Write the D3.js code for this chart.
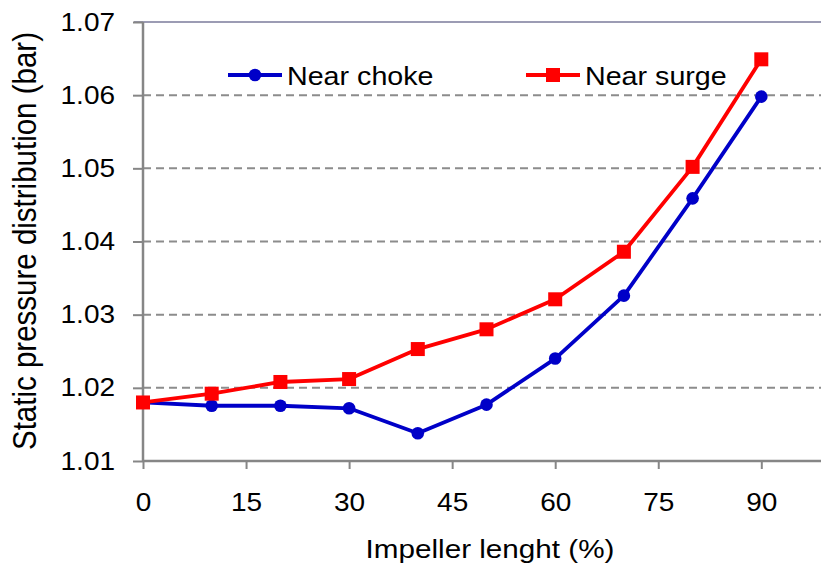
<!DOCTYPE html>
<html>
<head>
<meta charset="utf-8">
<script src="https://cdn.jsdelivr.net/npm/d3@7"></script>
<style>
  html, body { margin: 0; padding: 0; background: #fff; }
  svg { display: block; font-family: "Liberation Sans", Arial, sans-serif; }
</style>
</head>
<body>
<svg id="chart" width="821" height="575"></svg>
<script>
const xValues = [0, 10, 20, 30, 40, 50, 60, 70, 80, 90];
const nearChoke = [1.0180, 1.01755, 1.01755, 1.0172, 1.0138, 1.0177, 1.0240, 1.0326, 1.0459, 1.0598];
const nearSurge = [1.0180, 1.0192, 1.0208, 1.0212, 1.0253, 1.0280, 1.0321, 1.0386, 1.0502, 1.0649];
const xTicks = [0, 15, 30, 45, 60, 75, 90];
const yTicks = [1.01, 1.02, 1.03, 1.04, 1.05, 1.06, 1.07];
const seriesNames = ["Near choke", "Near surge"];
const seriesColors = ["#0000C8", "#FF0000"];

(function () {
const svg = d3.select("#chart");
const SX = 1.12; // horizontal text stretch seen in the reference
const plotLeft = 143, plotTop = 22, plotBottom = 461, plotRight = 830;
const x = d3.scaleLinear().domain([0, 100]).range([plotLeft, plotRight]);
const y = d3.scaleLinear().domain([1.01, 1.07]).range([plotBottom, plotTop]);

// gridlines
svg.append("g").selectAll("line").data(yTicks.slice(1, -1)).join("line")
  .attr("x1", plotLeft).attr("x2", 821)
  .attr("y1", d => y(d)).attr("y2", d => y(d))
  .attr("stroke", "#8c8c8c").attr("stroke-width", 2).attr("stroke-dasharray", "8,5");
// top border line
svg.append("line").attr("x1", 134).attr("x2", 821).attr("y1", y(1.07)).attr("y2", y(1.07))
  .attr("stroke", "#9c9cb4").attr("stroke-width", 2);

// axes
const xAxis = d3.axisBottom(x).tickValues(xTicks).tickSize(8).tickPadding(24).tickFormat(d3.format("d"));
const gx = svg.append("g").attr("transform", `translate(0,${plotBottom})`).call(xAxis);
gx.select(".domain").attr("d", `M${plotLeft},0H821`);
gx.selectAll(".tick text").attr("transform", `scale(${SX},1)`);
const yPad = 18, yTick = 10;
const yAxis = d3.axisLeft(y).tickValues(yTicks).tickSize(yTick).tickPadding(yPad).tickFormat(d3.format(".2f"));
const gy = svg.append("g").attr("transform", `translate(${plotLeft},0)`).call(yAxis);
gy.select(".domain").attr("d", `M0,${plotTop}V${plotBottom}`);
gy.selectAll(".tick text").attr("x", -(yTick + yPad) / SX).attr("transform", `scale(${SX},1)`);
svg.selectAll(".domain").attr("stroke", "#868686").attr("stroke-width", 2.5);
svg.selectAll(".tick line").attr("stroke", "#868686").attr("stroke-width", 2);
svg.selectAll(".tick text").attr("font-size", 25).attr("fill", "#000")
  .attr("font-family", "'Liberation Sans', Arial, sans-serif");

// axis titles
svg.append("text").attr("transform", `translate(490,558) scale(${SX},1)`).attr("text-anchor", "middle")
  .attr("font-size", 26.5).text("Impeller lenght (%)");
svg.append("text").attr("transform", `translate(36,241) scale(${SX},1) rotate(-90)`).attr("text-anchor", "middle")
  .attr("font-size", 29.5).text("Static pressure distribution (bar)");

// lines
const data = [nearChoke, nearSurge];
const line = d3.line().x((d, i) => x(xValues[i])).y(d => y(d));
data.forEach((vals, k) => {
  svg.append("path").datum(vals).attr("d", line).attr("fill", "none")
    .attr("stroke", seriesColors[k]).attr("stroke-width", 3.8).attr("stroke-linejoin", "round");
});
// markers
svg.append("g").selectAll("circle").data(nearChoke).join("circle")
  .attr("cx", (d, i) => x(xValues[i])).attr("cy", d => y(d)).attr("r", 6.3).attr("fill", seriesColors[0]);
svg.append("g").selectAll("rect").data(nearSurge).join("rect")
  .attr("x", (d, i) => x(xValues[i]) - 7).attr("y", d => y(d) - 7).attr("width", 14).attr("height", 14)
  .attr("fill", seriesColors[1]);

// legend
const legendX = [228, 526];
seriesNames.forEach((name, k) => {
  const g = svg.append("g").attr("transform", `translate(${legendX[k]},75)`);
  g.append("line").attr("x1", 0).attr("x2", 54).attr("stroke", seriesColors[k]).attr("stroke-width", 3.8);
  if (k === 0) g.append("circle").attr("cx", 27).attr("r", 6.3).attr("fill", seriesColors[k]);
  else g.append("rect").attr("x", 20).attr("y", -7).attr("width", 14).attr("height", 14).attr("fill", seriesColors[k]);
  g.append("text").attr("transform", `translate(59,9.5) scale(${SX},1)`)
    .attr("font-size", 25.6).text(name);
});
})();
</script>
</body>
</html>
